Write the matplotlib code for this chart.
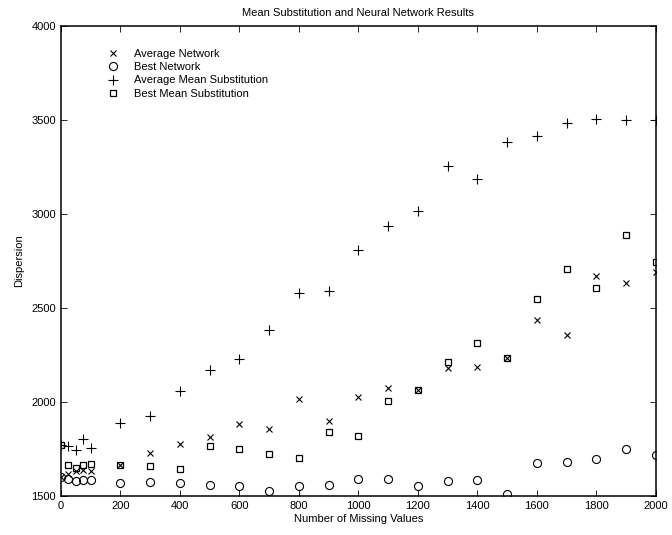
import numpy as np
import matplotlib
matplotlib.use('Agg')
import matplotlib.pyplot as plt

plt.rcParams['font.family'] = ['Liberation Sans', 'DejaVu Sans']

# number of missing values
missing = [0, 25, 50, 75, 100, 200, 300, 400, 500, 600, 700, 800, 900, 1000,
           1100, 1200, 1300, 1400, 1500, 1600, 1700, 1800, 1900, 2000]

avg_network = [1603, 1617, 1633, 1638, 1635, 1663, 1727, 1777, 1814, 1883, 1856, 2018,
               1899, 2028, 2073, 2064, 2179, 2188, 2236, 2434, 2358, 2668, 2635, 2693]
best_network = [1603, 1590, 1581, 1584, 1583, 1569, 1573, 1571, 1557, 1553, 1528, 1551,
                1557, 1590, 1589, 1555, 1578, 1583, 1512, 1674, 1681, 1699, 1748, 1718]
avg_mean_sub = [1771, 1768, 1745, 1801, 1757, 1887, 1925, 2060, 2168, 2227, 2383, 2580,
                2592, 2809, 2936, 3016, 3257, 3184, 3381, 3413, 3486, 3504, 3500, 3500]
best_mean_sub = [1771, 1663, 1647, 1663, 1670, 1663, 1660, 1642, 1764, 1750, 1722, 1700,
                 1839, 1821, 2007, 2066, 2214, 2316, 2236, 2546, 2709, 2608, 2890, 2743]

fig = plt.figure(figsize=(6.72, 5.35), dpi=100)
ax = fig.add_axes([0.0908, 0.0729, 0.885, 0.8785])

ax.plot(missing, avg_network, 'x', color='k', ms=4.5, mew=0.8, label='Average Network')
ax.plot(missing, best_network, 'o', mfc='none', mec='k', ms=5.8, mew=0.8, label='Best Network')
ax.plot(missing, avg_mean_sub, '+', color='k', ms=7, mew=0.8, label='Average Mean Substitution')
ax.plot(missing, best_mean_sub, 's', mfc='none', mec='k', ms=5, mew=0.9, label='Best Mean Substitution')

ax.set_xlim(0, 2000)
ax.set_ylim(1500, 4000)
ax.set_xticks(np.arange(0, 2001, 200))
ax.set_yticks(np.arange(1500, 4001, 500))
ax.tick_params(direction='in', length=4, width=0.6, top=True, right=True, labelsize=8)
for s in ax.spines.values():
    s.set_linewidth(1.1)

ax.set_xlabel('Number of Missing Values', fontsize=8, labelpad=2)
ax.set_ylabel('Dispersion', fontsize=8, labelpad=5)
ax.set_title('Mean Substitution and Neural Network Results', fontsize=8, pad=7)

ax.legend(loc='upper left', bbox_to_anchor=(0.07, 0.96), frameon=False, fontsize=8,
          handletextpad=1.4, labelspacing=0.28, handlelength=1.0, borderaxespad=0)

fig.savefig('out.png', dpi=100)
